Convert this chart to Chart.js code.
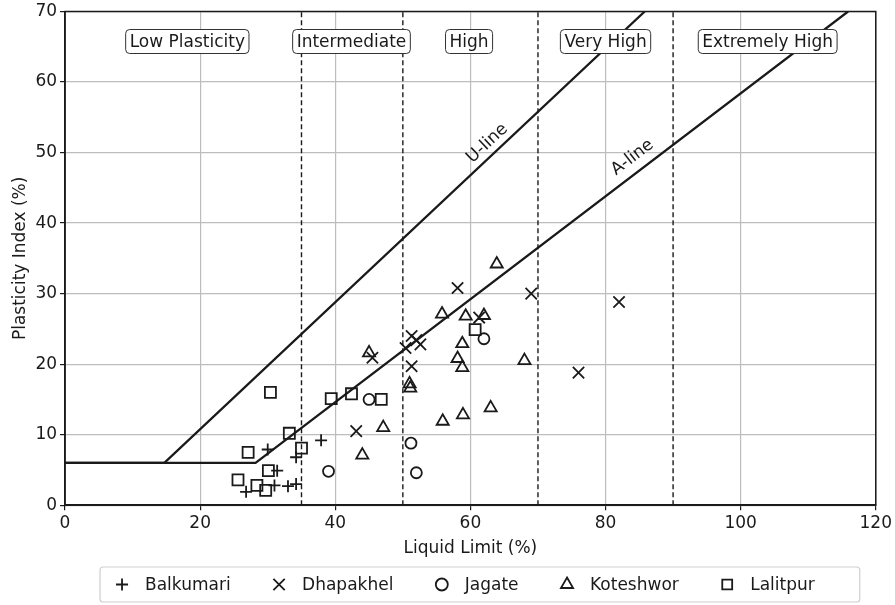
<!DOCTYPE html>
<html>
<head>
<meta charset="utf-8">
<script src="https://cdn.jsdelivr.net/npm/chart.js@4.4.1/dist/chart.umd.min.js"></script>
<style>
  html, body { margin: 0; padding: 0; background: #fff; }
  #wrap { width: 895px; height: 605px; position: relative; }
</style>
</head>
<body>
<div id="wrap"><canvas id="casagrande"></canvas></div>
<script>
// soil samples, liquid limit (LL) and plasticity index (PI), in %
var balkumariLL = [26.8, 31.0, 33.0, 34.2, 31.4, 30.0, 34.2, 37.9];
var balkumariPI = [1.9, 2.8, 2.7, 3.0, 4.9, 7.9, 6.8, 9.2];

var dhapakhelLL = [43.1, 45.5, 50.4, 51.3, 52.0, 52.6, 51.3, 58.1, 61.3, 69.0, 76.0, 82.0];
var dhapakhelPI = [10.5, 20.9, 22.3, 24.0, 23.4, 22.8, 19.7, 30.8, 26.6, 30.0, 18.8, 28.8];

var jagateLL = [39.0, 45.0, 51.2, 52.0, 62.0];
var jagatePI = [4.8, 15.0, 8.8, 4.6, 23.6];

var koteshworLL = [44.0, 45.0, 47.1, 51.0, 51.1, 55.8, 55.9, 58.1, 58.8, 58.9, 58.8, 59.3, 62.0, 63.0, 63.9, 68.0];
var koteshworPI = [7.1, 21.6, 11.0, 17.2, 16.6, 27.1, 11.9, 20.8, 19.5, 12.8, 22.9, 26.8, 26.9, 13.8, 34.2, 20.5];

var lalitpurLL = [25.6, 27.1, 28.4, 29.7, 30.1, 30.4, 33.2, 35.0, 39.4, 42.4, 46.8, 60.7];
var lalitpurPI = [3.6, 7.5, 2.8, 2.1, 4.9, 16.0, 10.2, 8.1, 15.1, 15.8, 15.0, 24.9];

// reference lines of the plasticity chart
var uLineLL = [0, 14.7, 85.8];
var uLinePI = [6, 6, 70];
var aLineLL = [0, 28.2, 115.9];
var aLinePI = [6, 6, 70];

// plasticity zones
var zoneBounds = [35, 50, 70, 90];
var zoneNames = ['Low Plasticity', 'Intermediate', 'High', 'Very High', 'Extremely High'];
var zoneLabelLL = [18.1, 42.4, 59.8, 80, 104];

var xTicks = [0, 20, 40, 60, 80, 100, 120];
var yTicks = [0, 10, 20, 30, 40, 50, 60, 70];

function pts(xs, ys) {
    return xs.map(function (x, i) { return { x: x, y: ys[i] }; });
}

var FONT = 'DejaVu Sans';
var FS = 17;
var INK = '#1a1a1a';

function soil(label, xs, ys, style, radius) {
    return {
        label: label,
        data: pts(xs, ys),
        pointStyle: style,
        pointRadius: radius,
        pointHoverRadius: radius,
        borderColor: INK,
        backgroundColor: 'rgba(0,0,0,0)',
        borderWidth: 1.8,
        showLine: false
    };
}

function refLine(label, xs, ys, dash, width) {
    return {
        label: label,
        data: pts(xs, ys),
        showLine: true,
        pointRadius: 0,
        borderColor: INK,
        borderWidth: width,
        borderDash: dash,
        fill: false,
        isRef: true
    };
}

var datasets = [
    soil('Balkumari', balkumariLL, balkumariPI, 'cross', 6),
    soil('Dhapakhel', dhapakhelLL, dhapakhelPI, 'crossRot', 8),
    soil('Jagate', jagateLL, jagatePI, 'circle', 5.5),
    soil('Koteshwor', koteshworLL, koteshworPI, 'triangle', 7),
    soil('Lalitpur', lalitpurLL, lalitpurPI, 'rect', 7.8),
    refLine('U-line', uLineLL, uLinePI, [], 2.3),
    refLine('A-line', aLineLL, aLinePI, [], 2.3)
];
zoneBounds.forEach(function (b) {
    datasets.push(refLine('zone' + b, [b, b], [0, 70], [5, 3], 1.4));
});

function marker(ctx, style, r, x, y) {
    ctx.beginPath();
    if (style === 'cross') {
        ctx.moveTo(x - r, y); ctx.lineTo(x + r, y);
        ctx.moveTo(x, y - r); ctx.lineTo(x, y + r);
    } else if (style === 'crossRot') {
        var d = r * Math.SQRT1_2;
        ctx.moveTo(x - d, y - d); ctx.lineTo(x + d, y + d);
        ctx.moveTo(x - d, y + d); ctx.lineTo(x + d, y - d);
    } else if (style === 'circle') {
        ctx.arc(x, y, r, 0, Math.PI * 2);
    } else if (style === 'triangle') {
        ctx.moveTo(x, y - r);
        ctx.lineTo(x + r * 0.866, y + r * 0.5);
        ctx.lineTo(x - r * 0.866, y + r * 0.5);
        ctx.closePath();
    } else {
        var s = r * Math.SQRT1_2;
        ctx.rect(x - s, y - s, 2 * s, 2 * s);
    }
    ctx.stroke();
}

// zone captions, line names, plot frame and the framed legend
var decorations = {
    id: 'decorations',
    afterDatasetsDraw: function (chart) {
        var ctx = chart.ctx, xs = chart.scales.x, ys = chart.scales.y, a = chart.chartArea;
        ctx.save();
        ctx.font = FS + 'px "' + FONT + '"';
        ctx.textAlign = 'center';
        ctx.textBaseline = 'middle';
        zoneNames.forEach(function (name, i) {
            var cx = xs.getPixelForValue(zoneLabelLL[i]);
            var cy = a.top + 30;
            var w = ctx.measureText(name).width + 8;
            var h = 24;
            ctx.beginPath();
            ctx.roundRect(cx - w / 2, cy - h / 2, w, h, 4);
            ctx.fillStyle = '#fff';
            ctx.fill();
            ctx.strokeStyle = '#333';
            ctx.lineWidth = 1;
            ctx.stroke();
            ctx.fillStyle = INK;
            ctx.fillText(name, cx, cy + 1);
        });

        // line names, rotated along each line
        [['U-line', 62.5, 51.3, 0.9], ['A-line', 84, 49.3, 0.73]].forEach(function (t) {
            var px = xs.getPixelForValue(t[1]), py = ys.getPixelForValue(t[2]);
            var dx = xs.getPixelForValue(10) - xs.getPixelForValue(0);
            var dy = ys.getPixelForValue(10 * t[3]) - ys.getPixelForValue(0);
            ctx.save();
            ctx.translate(px, py);
            ctx.rotate(Math.atan2(dy, dx));
            ctx.fillStyle = INK;
            ctx.fillText(t[0], 0, 0);
            ctx.restore();
        });

        ctx.strokeStyle = INK;
        ctx.lineWidth = 1.5;
        ctx.strokeRect(a.left, a.top, a.right - a.left, a.bottom - a.top);

        // legend in a frame, columns spread evenly
        var soils = chart.data.datasets.filter(function (d) { return !d.isRef; });
        var boxL = a.left + 35, boxR = a.right - 16, boxT = chart.height - 38, boxB = chart.height - 3;
        var cy2 = (boxT + boxB) / 2;
        ctx.strokeStyle = '#cfcfcf';
        ctx.lineWidth = 1.2;
        ctx.beginPath();
        ctx.roundRect(boxL, boxT, boxR - boxL, boxB - boxT, 3);
        ctx.stroke();
        var widths = soils.map(function (d) { return 30 + ctx.measureText(d.label).width; });
        var inner0 = boxL + 15, inner1 = boxR - 45;
        var gap = (inner1 - inner0 - widths.reduce(function (s, w) { return s + w; }, 0)) / (soils.length - 1);
        var cx2 = inner0;
        ctx.textAlign = 'left';
        soils.forEach(function (d, i) {
            ctx.strokeStyle = INK;
            ctx.lineWidth = 1.8;
            var r = { rect: 7, crossRot: 8, triangle: 7 }[d.pointStyle] || 6;
            marker(ctx, d.pointStyle, r, cx2 + 7, cy2);
            ctx.fillStyle = INK;
            ctx.fillText(d.label, cx2 + 30, cy2 + 1);
            cx2 += widths[i] + gap;
        });
        ctx.restore();
    }
};

var chart = new Chart(document.getElementById('casagrande').getContext('2d'), {
    type: 'scatter',
    data: { datasets: datasets },
    plugins: [decorations],
    options: {
        responsive: true,
        maintainAspectRatio: false,
        animation: false,
        layout: { padding: { left: 10, right: 13, top: 0, bottom: 46 } },
        plugins: {
            tooltip: { enabled: false },
            legend: { display: false }
        },
        scales: {
            x: {
                type: 'linear',
                min: 0,
                max: 120,
                afterBuildTicks: function (s) { s.ticks = xTicks.map(function (v) { return { value: v }; }); },
                ticks: { color: INK, font: { family: FONT, size: FS }, padding: 3 },
                grid: { color: '#bdbdbd', tickColor: INK, tickLength: 5, lineWidth: 1.2 },
                border: { color: INK, width: 1.5 },
                title: { display: true, text: 'Liquid Limit (%)', color: INK, font: { family: FONT, size: FS }, padding: { top: 2, bottom: 0 } }
            },
            y: {
                type: 'linear',
                min: 0,
                max: 70,
                afterBuildTicks: function (s) { s.ticks = yTicks.map(function (v) { return { value: v }; }); },
                ticks: { color: INK, font: { family: FONT, size: FS, lineHeight: 1.0 }, padding: 3 },
                grid: { color: '#bdbdbd', tickColor: INK, tickLength: 5, lineWidth: 1.2 },
                border: { color: INK, width: 1.5 },
                title: { display: true, text: 'Plasticity Index (%)', color: INK, font: { family: FONT, size: FS }, padding: { top: 0, bottom: 2 } }
            }
        }
    }
});
</script>
</body>
</html>
